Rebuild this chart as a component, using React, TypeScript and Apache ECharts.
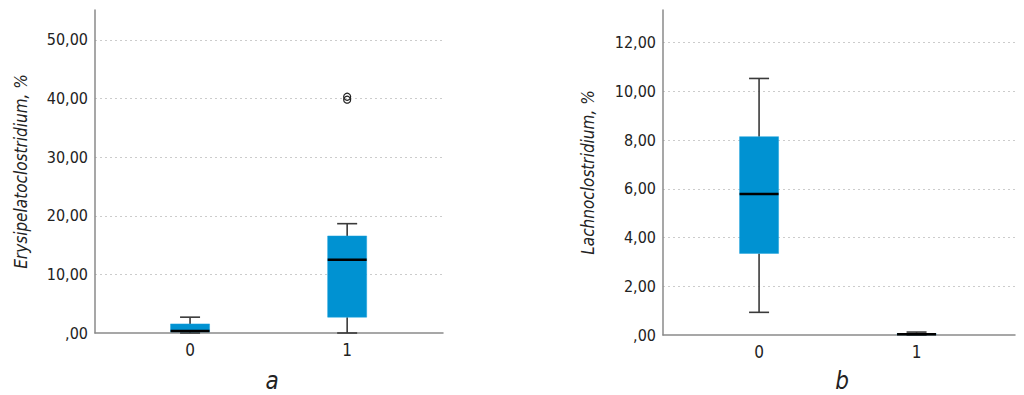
import React, { useEffect, useRef } from "react";
import * as echarts from "echarts";

// Chart a: Erysipelatoclostridium, %
const groupsA = [0, 1];
const boxA = [
  [0, 0.2, 0.35, 1.55, 2.7], // min, Q1, median, Q3, max
  [0, 2.7, 12.5, 16.55, 18.65],
];
const outliersA = [
  [1, 40.3],
  [1, 39.8],
];
const yTicksA = { min: 0, max: 55.1, interval: 10 };

// Chart b: Lachnoclostridium, %
const groupsB = [0, 1];
const boxB = [
  [0.93, 3.35, 5.79, 8.14, 10.53],
  [0, 0.01, 0.03, 0.06, 0.12],
];
const yTicksB = { min: 0, max: 13.34, interval: 2 };

const FONT = "'Liberation Sans Narrow', 'DejaVu Sans Condensed', 'Roboto Condensed', 'Liberation Sans', sans-serif";
const BOX_COLOR = "#0092D2";
const WHISKER = "#3a3a3a";
const TEXT = "#222";

const fmt = (v: number) => {
  const s = v.toFixed(2).replace(".", ",");
  return s.startsWith("0,") ? s.slice(1) : s;
};

function renderBox(params: any, api: any) {
  const x = api.value(0);
  const lo = api.coord([x, api.value(1)]);
  const q1 = api.coord([x, api.value(2)]);
  const med = api.coord([x, api.value(3)]);
  const q3 = api.coord([x, api.value(4)]);
  const hi = api.coord([x, api.value(5)]);
  const bw = 39;
  const cw = 20;
  const cx = lo[0];
  const lineStyle = { stroke: WHISKER, lineWidth: 1.6 };
  return {
    type: "group",
    children: [
      { type: "line", shape: { x1: cx, y1: lo[1], x2: cx, y2: q1[1] }, style: lineStyle },
      { type: "line", shape: { x1: cx, y1: q3[1], x2: cx, y2: hi[1] }, style: lineStyle },
      { type: "line", shape: { x1: cx - cw / 2, y1: lo[1], x2: cx + cw / 2, y2: lo[1] }, style: lineStyle },
      { type: "line", shape: { x1: cx - cw / 2, y1: hi[1], x2: cx + cw / 2, y2: hi[1] }, style: lineStyle },
      {
        type: "rect",
        shape: { x: cx - bw / 2, y: q3[1], width: bw, height: Math.max(q1[1] - q3[1], 0.5) },
        style: { fill: BOX_COLOR, stroke: "#1aa0dc", lineWidth: 0.5 },
      },
      { type: "line", shape: { x1: cx - bw / 2, y1: med[1], x2: cx + bw / 2, y2: med[1] }, style: { stroke: "#000", lineWidth: 2.5 } },
    ],
  };
}

export default function App() {
  const ref = useRef<HTMLDivElement>(null);
  useEffect(() => {
    if (!ref.current) return;
    const chart = echarts.init(ref.current, undefined, { renderer: "svg" });

    const xAxisBase = (gridIndex: number, name: string, min: number, max: number, gap: number) => ({
      type: "value",
      gridIndex,
      min,
      max,
      name,
      nameLocation: "middle",
      nameGap: gap,
      nameTextStyle: { fontFamily: FONT, fontStyle: "italic", fontSize: 24, color: TEXT, padding: [0, 0, 0, 6] },
      axisLine: { show: true, onZero: false, lineStyle: { color: "#8a8a8a", width: 1.5 } },
      axisTick: { show: false },
      splitLine: { show: false },
      axisLabel: {
        customValues: gridIndex === 0 ? groupsA : groupsB,
        formatter: (v: number) => (v === 0 || v === 1 ? String(v) : ""),
        fontFamily: FONT,
        fontSize: 17,
        color: TEXT,
        margin: 8,
      },
    });

    const yAxisBase = (gridIndex: number, name: string, t: { min: number; max: number; interval: number }, gap: number) => ({
      type: "value",
      gridIndex,
      min: t.min,
      max: t.max,
      interval: t.interval,
      name,
      nameLocation: "middle",
      nameGap: gap,
      nameTextStyle: { fontFamily: FONT, fontStyle: "italic", fontSize: 17, color: TEXT },
      axisLine: { show: true, onZero: false, lineStyle: { color: "#8a8a8a", width: 1.5 } },
      axisTick: { show: false },
      axisLabel: {
        showMaxLabel: false,
        formatter: (v: number) => (Math.abs(v / t.interval - Math.round(v / t.interval)) < 1e-6 ? fmt(v) : ""),
        fontFamily: FONT,
        fontSize: 16,
        color: TEXT,
        margin: 7,
      },
      splitLine: {
        show: true,
        showMinLine: false,
        showMaxLine: false,
        lineStyle: { color: "#cccccc", type: [2, 3], width: 1 },
      },
    });

    chart.setOption({
      animation: false,
      backgroundColor: "#fff",
      grid: [
        { left: 95, top: 10, width: 348, height: 323, containLabel: false, outerBoundsMode: "none" },
        { left: 663, top: 10, width: 352, height: 325, containLabel: false, outerBoundsMode: "none" },
      ],
      xAxis: [xAxisBase(0, "a", -0.605, 1.61, 36), xAxisBase(1, "b", -0.61, 1.625, 34)],
      yAxis: [
        yAxisBase(0, "Erysipelatoclostridium, %", yTicksA, 66),
        yAxisBase(1, "Lachnoclostridium, %", yTicksB, 67),
      ],
      series: [
        {
          type: "custom",
          name: "a",
          xAxisIndex: 0,
          yAxisIndex: 0,
          renderItem: renderBox,
          encode: { x: 0, y: [1, 2, 3, 4, 5] },
          data: groupsA.map((g, i) => [g, ...boxA[i]]),
        },
        {
          type: "scatter",
          name: "outliers a",
          xAxisIndex: 0,
          yAxisIndex: 0,
          symbol: "circle",
          symbolSize: 7,
          z: 5,
          itemStyle: { color: "rgba(255,255,255,0)", borderColor: "#222", borderWidth: 1.2, opacity: 1 },
          data: outliersA,
        },
        {
          type: "custom",
          name: "b",
          xAxisIndex: 1,
          yAxisIndex: 1,
          renderItem: renderBox,
          encode: { x: 0, y: [1, 2, 3, 4, 5] },
          data: groupsB.map((g, i) => [g, ...boxB[i]]),
        },
      ],
    });
    return () => chart.dispose();
  }, []);
  return (
    <div
      ref={ref}
      style={{ position: "fixed", left: 0, top: 0, width: 1024, height: 395, background: "#fff" }}
    />
  );
}
